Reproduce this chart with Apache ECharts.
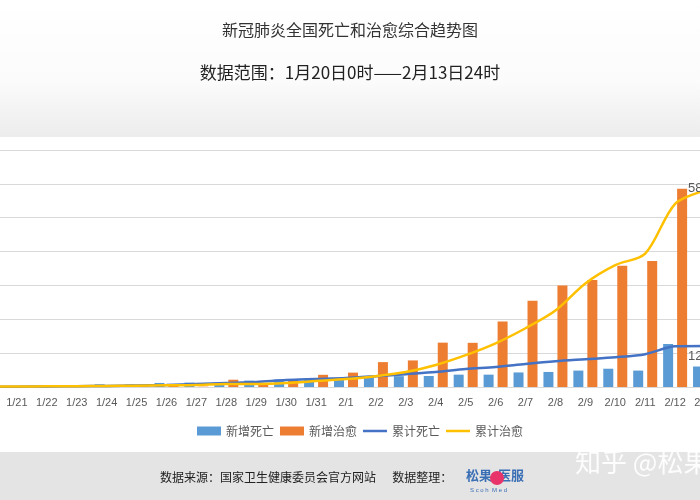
<!DOCTYPE html><html><head><meta charset="utf-8"><script src="https://cdn.jsdelivr.net/npm/echarts@6/dist/echarts.min.js"></script>
<style>body{margin:0;overflow:hidden;width:700px;height:500px;position:relative}#c{position:absolute;left:-28px;top:0;width:748px;height:500px}</style></head><body><div id="c"></div><script>
const categories=['1/20','1/21','1/22','1/23','1/24','1/25','1/26','1/27','1/28','1/29','1/30','1/31','2/1','2/2','2/3','2/4','2/5','2/6','2/7','2/8','2/9','2/10','2/11','2/12','2/13'];
const newDeaths=[3,3,8,8,16,15,24,26,26,38,43,46,45,57,64,65,73,73,86,89,97,108,97,254,121];
const newCured=[0,0,3,6,6,11,9,2,43,21,47,72,85,147,157,262,261,387,510,600,632,716,744,1171,1081];
const cumDeaths=[5,8,15,25,30,45,60,90,120,150,205,235,265,320,380,440,530,590,680,760,820,880,970,1200,1210];
const cumCured=[10,15,20,25,30,40,50,60,90,90,118,176,235,320,440,650,940,1290,1735,2260,3060,3600,3940,5410,5800];
const c=echarts.init(document.getElementById('c'));
const txt='#595959';
const X=28;
c.setOption({
animation:false,
graphic:[
{type:'rect',z:-10,shape:{x:0,y:0,width:748,height:137},style:{fill:new echarts.graphic.LinearGradient(0,0,0,1,[{offset:0,color:'#ffffff'},{offset:0.6,color:'#fbfbfb'},{offset:1,color:'#ececec'}])}},
{type:'rect',z:-10,shape:{x:0,y:137,width:748,height:315},style:{fill:'#fff'}},
{type:'rect',z:-10,shape:{x:0,y:452,width:748,height:48},style:{fill:'#e4e4e4'}},
{type:'text',x:X+350,y:22,style:{text:'新冠肺炎全国死亡和治愈综合趋势图',align:'center',font:'16px "Noto Sans CJK SC"',fill:'#333'}},
{type:'text',x:X+350,y:64,style:{text:'数据范围：1月20日0时——2月13日24时',align:'center',font:'17px "Noto Sans CJK SC"',fill:'#222'}},
{type:'text',x:X+160,y:471,style:{text:'数据来源：国家卫生健康委员会官方网站      数据整理：',font:'12px "Noto Sans CJK SC"',fill:'#222'}},
{type:'text',x:X+466,y:469,style:{text:'松果  医服',font:'bold 13px "Noto Sans CJK SC"',fill:'#3a6fb5'}},
{type:'circle',shape:{cx:X+497,cy:478,r:7},style:{fill:'#e8336b'}},
{type:'text',x:X+470,y:487,style:{text:'S c o h  M e d',font:'6px sans-serif',fill:'#3a6fb5'}},
{type:'text',x:X+575,y:449,style:{text:'知乎 @松果',font:'26px "Noto Sans CJK SC"',fill:'rgba(255,255,255,0.9)'}}
],
legend:{bottom:58,left:X+192,itemWidth:24,itemHeight:9,itemGap:6,textStyle:{color:txt,fontSize:12,fontFamily:'Noto Sans CJK SC'},
data:[{name:'新增死亡',icon:'rect'},{name:'新增治愈',icon:'rect'},{name:'累计死亡',icon:'path://M0,4h24v2.5h-24z'},{name:'累计治愈',icon:'path://M0,4h24v2.5h-24z'}]},
grid:{left:0,right:0,top:150,bottom:113},
xAxis:{type:'category',data:categories,axisLine:{lineStyle:{color:'#d9d9d9'}},axisTick:{lineStyle:{color:'#d9d9d9'}},axisLabel:{color:txt,fontSize:11,interval:0,margin:10}},
yAxis:[{type:'value',min:0,max:1400,interval:200,axisLabel:{show:false},splitLine:{lineStyle:{color:'#d9d9d9'}},axisLine:{show:false}},
{type:'value',min:0,max:7000,interval:1000,show:false,splitLine:{show:false}}],
series:[
{name:'新增死亡',type:'bar',data:newDeaths,barWidth:10,barGap:'40%',itemStyle:{color:'#5b9bd5'}},
{name:'新增治愈',type:'bar',data:newCured,barWidth:10,itemStyle:{color:'#ed7d31'}},
{name:'累计死亡',type:'line',yAxisIndex:1,data:cumDeaths,smooth:0.3,symbol:'none',lineStyle:{color:'#4472c4',width:2.5},itemStyle:{color:'#4472c4'},
 markPoint:{symbol:'circle',symbolSize:0,data:[{coord:['2/12',1200],value:'1208'}],label:{show:true,position:[13,4],color:txt,fontSize:13,formatter:'1208'}}},
{name:'累计治愈',type:'line',yAxisIndex:1,data:cumCured,smooth:0.3,symbol:'none',lineStyle:{color:'#ffc000',width:2.5},itemStyle:{color:'#ffc000'},
 markPoint:{symbol:'circle',symbolSize:0,data:[{coord:['2/12',5410],value:'5800'}],label:{show:true,position:[13,-22],color:txt,fontSize:13,formatter:'5800'}}}
]});
</script></body></html>
